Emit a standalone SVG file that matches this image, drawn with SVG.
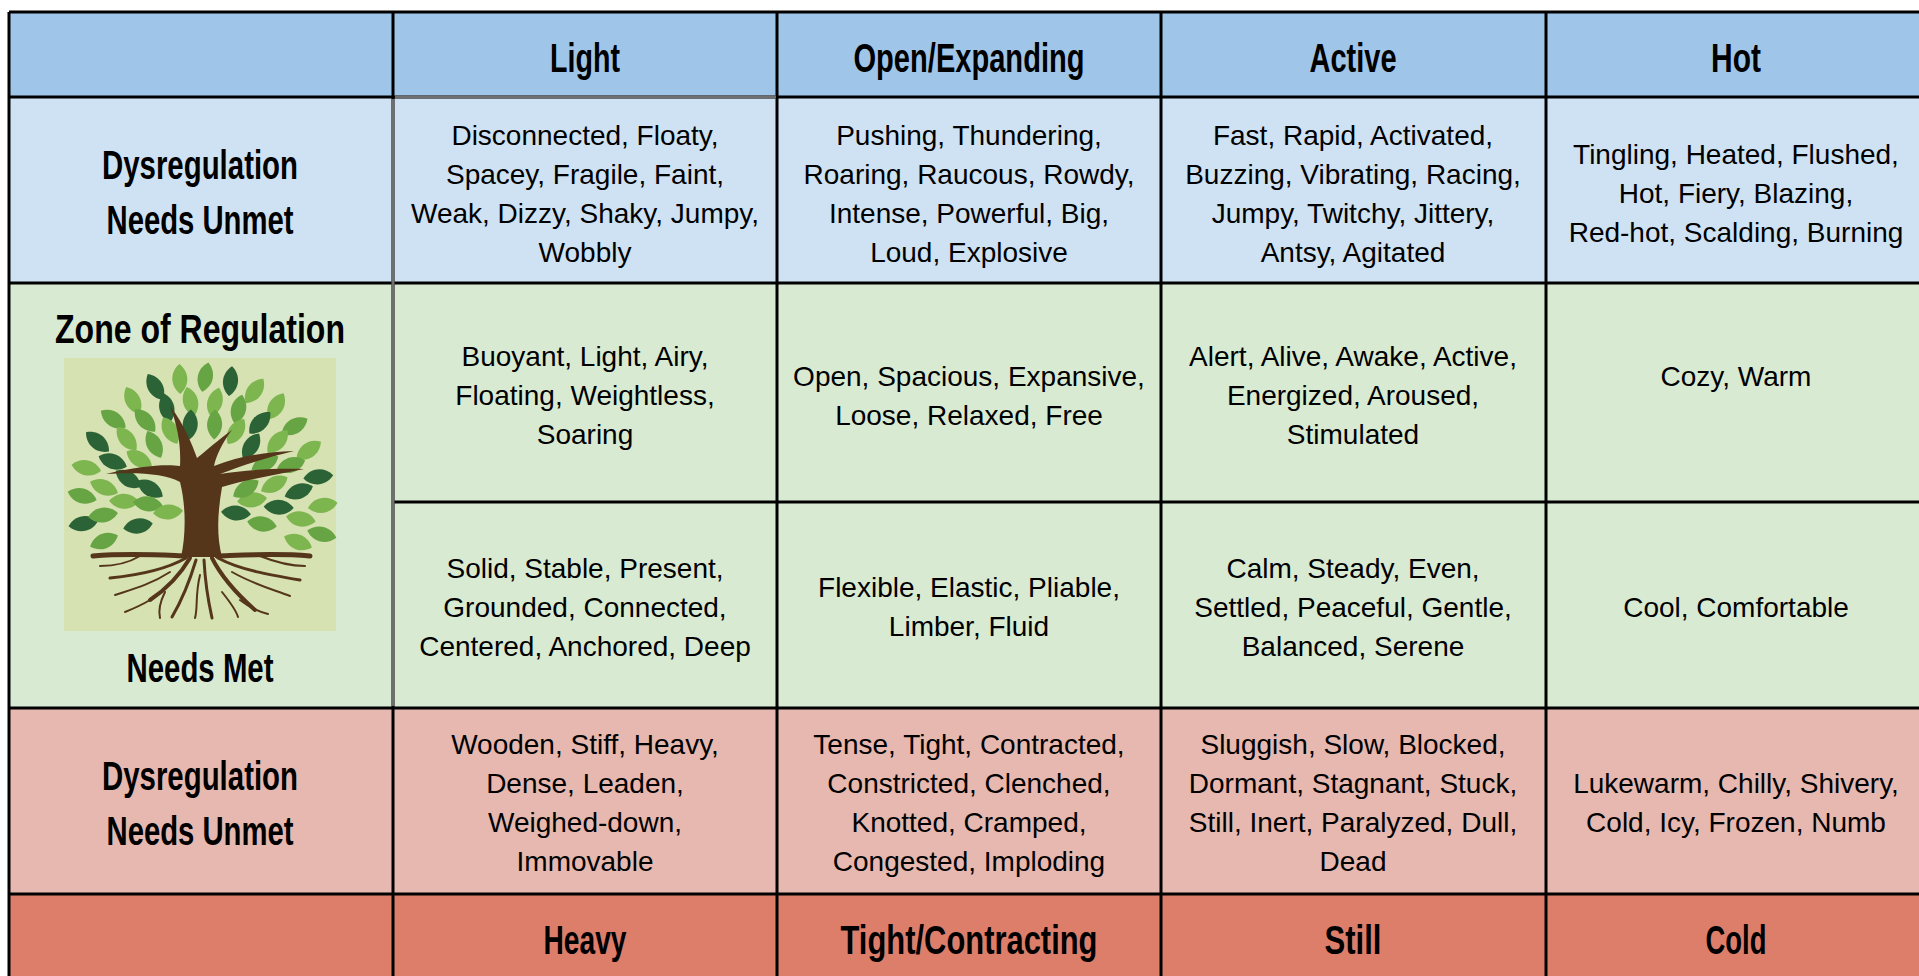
<svg xmlns="http://www.w3.org/2000/svg" width="1919" height="976" viewBox="0 0 1919 976">
<defs>
<style>
.h{font-family:'Liberation Sans',Arial,sans-serif;font-weight:700;font-size:41px;text-anchor:middle;fill:#000}
.b{font-family:'Liberation Sans',Arial,sans-serif;font-size:28px;text-anchor:middle;fill:#000}
.ln{stroke:#000;stroke-width:3;fill:none}
.lg{stroke:#6f6f6f;stroke-width:3;fill:none}
.g1{fill:#7db54f}.g2{fill:#67a443}.g3{fill:#2b6236}
.br{stroke:#55361b;fill:none;stroke-linecap:round;stroke-linejoin:round}
</style>
<path id="leaf" d="M0,-15 C10,-7 10,7 0,15 C-10,7 -10,-7 0,-15Z"/>
</defs>
<rect width="1919" height="976" fill="#fff"/>
<g id="backgrounds">
<rect x="9" y="12" width="1910" height="85" fill="#9fc5e8"/>
<rect x="9" y="97" width="1910" height="186" fill="#cfe2f3"/>
<rect x="9" y="283" width="1910" height="425" fill="#d9ead3"/>
<rect x="9" y="708" width="1910" height="186" fill="#e6b8af"/>
<rect x="9" y="894" width="1910" height="82" fill="#dd7e6b"/>
</g>
<g id="header-top">
<text class="h" x="585" y="72" textLength="70" lengthAdjust="spacingAndGlyphs">Light</text>
<text class="h" x="969" y="72" textLength="231" lengthAdjust="spacingAndGlyphs">Open/Expanding</text>
<text class="h" x="1353" y="72" textLength="87" lengthAdjust="spacingAndGlyphs">Active</text>
<text class="h" x="1736" y="72" textLength="50" lengthAdjust="spacingAndGlyphs">Hot</text>
</g>
<g id="label-unmet-top">
<text class="h" x="200" y="179" textLength="196" lengthAdjust="spacingAndGlyphs">Dysregulation</text>
<text class="h" x="200" y="234" textLength="187" lengthAdjust="spacingAndGlyphs">Needs Unmet</text>
</g>
<g id="cell-r1-light"><text class="b"><tspan x="585" y="145">Disconnected, Floaty,</tspan><tspan x="585" y="184">Spacey, Fragile, Faint,</tspan><tspan x="585" y="223">Weak, Dizzy, Shaky, Jumpy,</tspan><tspan x="585" y="262">Wobbly</tspan></text></g>
<g id="cell-r1-open"><text class="b"><tspan x="969" y="145">Pushing, Thundering,</tspan><tspan x="969" y="184">Roaring, Raucous, Rowdy,</tspan><tspan x="969" y="223">Intense, Powerful, Big,</tspan><tspan x="969" y="262">Loud, Explosive</tspan></text></g>
<g id="cell-r1-active"><text class="b"><tspan x="1353" y="145">Fast, Rapid, Activated,</tspan><tspan x="1353" y="184">Buzzing, Vibrating, Racing,</tspan><tspan x="1353" y="223">Jumpy, Twitchy, Jittery,</tspan><tspan x="1353" y="262">Antsy, Agitated</tspan></text></g>
<g id="cell-r1-hot"><text class="b"><tspan x="1736" y="164">Tingling, Heated, Flushed,</tspan><tspan x="1736" y="203">Hot, Fiery, Blazing,</tspan><tspan x="1736" y="242">Red-hot, Scalding, Burning</tspan></text></g>
<g id="label-zone">
<text class="h" x="200" y="343" textLength="290" lengthAdjust="spacingAndGlyphs">Zone of Regulation</text>
<g id="tree">
<rect x="64" y="358" width="272" height="273" fill="#d6e2b1"/>
<g id="leaves">
<use href="#leaf" class="g2" transform="translate(321.8,534.2) rotate(104)"/>
<use href="#leaf" class="g1" transform="translate(322.7,505.3) rotate(80)"/>
<use href="#leaf" class="g3" transform="translate(318.3,476.9) rotate(84)"/>
<use href="#leaf" class="g1" transform="translate(308.7,450.3) rotate(55)"/>
<use href="#leaf" class="g2" transform="translate(294.5,426.3) rotate(60)"/>
<use href="#leaf" class="g1" transform="translate(276.1,406.3) rotate(30)"/>
<use href="#leaf" class="g1" transform="translate(254.5,391.0) rotate(36)"/>
<use href="#leaf" class="g3" transform="translate(230.5,381.1) rotate(6)"/>
<use href="#leaf" class="g2" transform="translate(205.3,377.1) rotate(12)"/>
<use href="#leaf" class="g1" transform="translate(179.8,379.1) rotate(-2)"/>
<use href="#leaf" class="g3" transform="translate(155.3,387.1) rotate(-30)"/>
<use href="#leaf" class="g1" transform="translate(132.8,400.6) rotate(-26)"/>
<use href="#leaf" class="g2" transform="translate(113.3,419.1) rotate(-56)"/>
<use href="#leaf" class="g3" transform="translate(97.5,441.9) rotate(-50)"/>
<use href="#leaf" class="g1" transform="translate(86.3,467.8) rotate(-78)"/>
<use href="#leaf" class="g2" transform="translate(82.2,495.8) rotate(-74)"/>
<use href="#leaf" class="g3" transform="translate(83.3,523.7) rotate(-100)"/>
<use href="#leaf" class="g1" transform="translate(300.9,519.0) rotate(100)"/>
<use href="#leaf" class="g3" transform="translate(298.8,491.3) rotate(70)"/>
<use href="#leaf" class="g2" transform="translate(290.9,465.1) rotate(72)"/>
<use href="#leaf" class="g1" transform="translate(277.6,441.7) rotate(42)"/>
<use href="#leaf" class="g3" transform="translate(259.8,422.8) rotate(44)"/>
<use href="#leaf" class="g2" transform="translate(238.5,409.3) rotate(14)"/>
<use href="#leaf" class="g1" transform="translate(214.9,402.1) rotate(16)"/>
<use href="#leaf" class="g1" transform="translate(190.5,401.6) rotate(-14)"/>
<use href="#leaf" class="g3" transform="translate(166.8,407.8) rotate(-12)"/>
<use href="#leaf" class="g2" transform="translate(145.1,420.5) rotate(-42)"/>
<use href="#leaf" class="g1" transform="translate(126.7,438.7) rotate(-40)"/>
<use href="#leaf" class="g3" transform="translate(112.7,461.5) rotate(-70)"/>
<use href="#leaf" class="g1" transform="translate(104.0,487.4) rotate(-68)"/>
<use href="#leaf" class="g2" transform="translate(103.0,515.0) rotate(-98)"/>
<use href="#leaf" class="g3" transform="translate(278.7,507.2) rotate(93)"/>
<use href="#leaf" class="g1" transform="translate(274.3,484.2) rotate(62)"/>
<use href="#leaf" class="g2" transform="translate(264.9,463.3) rotate(63)"/>
<use href="#leaf" class="g3" transform="translate(251.1,446.1) rotate(32)"/>
<use href="#leaf" class="g1" transform="translate(236.0,431.5) rotate(33)"/>
<use href="#leaf" class="g2" transform="translate(214.6,424.4) rotate(2)"/>
<use href="#leaf" class="g3" transform="translate(190.2,424.4) rotate(3)"/>
<use href="#leaf" class="g1" transform="translate(170.3,430.4) rotate(-28)"/>
<use href="#leaf" class="g2" transform="translate(154.2,444.3) rotate(-27)"/>
<use href="#leaf" class="g1" transform="translate(139.3,459.1) rotate(-58)"/>
<use href="#leaf" class="g3" transform="translate(128.3,478.9) rotate(-57)"/>
<use href="#leaf" class="g1" transform="translate(124.2,501.3) rotate(-88)"/>
<use href="#leaf" class="g1" transform="translate(252.1,499.9) rotate(83)"/>
<use href="#leaf" class="g2" transform="translate(245.9,488.6) rotate(58)"/>
<use href="#leaf" class="g3" transform="translate(150.1,488.6) rotate(-58)"/>
<use href="#leaf" class="g2" transform="translate(147.9,503.9) rotate(-83)"/>
<use href="#leaf" class="g2" transform="translate(104,541) rotate(-112)"/>
<use href="#leaf" class="g3" transform="translate(138,526) rotate(-100)"/>
<use href="#leaf" class="g1" transform="translate(298,542) rotate(112)"/>
<use href="#leaf" class="g2" transform="translate(262,524) rotate(100)"/>
<use href="#leaf" class="g1" transform="translate(168,512) rotate(-95)"/>
<use href="#leaf" class="g3" transform="translate(236,513) rotate(95)"/>
</g>
<g id="trunk">
<path fill="#55361b" d="M181,557 C186,535 186,505 180,482 C165,474 140,472 106,474 C140,466 165,464 180,466 C181,445 178,428 170,406 C184,424 192,444 197,458 C207,450 218,440 232,430 C222,443 216,456 214,466 C240,456 265,452 294,451 C265,458 240,466 220,474 C245,470 275,468 304,469 C275,475 245,480 222,487 C218,510 216,535 222,557 Z"/>
<path class="br" stroke-width="5" d="M186,556 C160,555 130,553 93,556"/>
<path class="br" stroke-width="5" d="M217,556 C245,555 275,553 310,556"/>
<path class="br" stroke-width="4" d="M190,558 C180,575 165,590 150,600"/>
<path class="br" stroke-width="3" d="M196,560 C190,580 182,600 172,617"/>
<path class="br" stroke-width="3" d="M204,560 C205,580 208,600 212,618"/>
<path class="br" stroke-width="4" d="M212,558 C222,578 238,595 255,610"/>
<path class="br" stroke-width="3" d="M186,558 C165,570 140,575 110,578"/>
<path class="br" stroke-width="3" d="M218,558 C240,570 270,575 300,580"/>
<path class="br" stroke-width="2" d="M170,572 C150,585 130,590 115,595"/>
<path class="br" stroke-width="2" d="M232,572 C255,585 275,590 290,596"/>
<path class="br" stroke-width="2" d="M150,600 C140,606 130,610 125,612"/>
<path class="br" stroke-width="2" d="M240,600 C250,608 260,612 268,614"/>
<path class="br" stroke-width="2" d="M200,575 C195,595 198,608 195,618"/>
<path class="br" stroke-width="2" d="M140,556 C130,562 115,566 100,566"/>
<path class="br" stroke-width="2" d="M260,556 C275,562 290,566 305,566"/>
<path class="br" stroke-width="2" d="M165,592 C160,602 158,610 160,618"/>
<path class="br" stroke-width="2" d="M222,592 C230,602 236,610 238,617"/>
</g>
</g>
<text class="h" x="200" y="682" textLength="147" lengthAdjust="spacingAndGlyphs">Needs Met</text>
</g>
<g id="cell-r2a-light"><text class="b"><tspan x="585" y="366">Buoyant, Light, Airy,</tspan><tspan x="585" y="405">Floating, Weightless,</tspan><tspan x="585" y="444">Soaring</tspan></text></g>
<g id="cell-r2a-open"><text class="b"><tspan x="969" y="386">Open, Spacious, Expansive,</tspan><tspan x="969" y="425">Loose, Relaxed, Free</tspan></text></g>
<g id="cell-r2a-active"><text class="b"><tspan x="1353" y="366">Alert, Alive, Awake, Active,</tspan><tspan x="1353" y="405">Energized, Aroused,</tspan><tspan x="1353" y="444">Stimulated</tspan></text></g>
<g id="cell-r2a-hot"><text class="b" x="1736" y="386">Cozy, Warm</text></g>
<g id="cell-r2b-light"><text class="b"><tspan x="585" y="578">Solid, Stable, Present,</tspan><tspan x="585" y="617">Grounded, Connected,</tspan><tspan x="585" y="656">Centered, Anchored, Deep</tspan></text></g>
<g id="cell-r2b-open"><text class="b"><tspan x="969" y="597">Flexible, Elastic, Pliable,</tspan><tspan x="969" y="636">Limber, Fluid</tspan></text></g>
<g id="cell-r2b-active"><text class="b"><tspan x="1353" y="578">Calm, Steady, Even,</tspan><tspan x="1353" y="617">Settled, Peaceful, Gentle,</tspan><tspan x="1353" y="656">Balanced, Serene</tspan></text></g>
<g id="cell-r2b-hot"><text class="b" x="1736" y="617">Cool, Comfortable</text></g>
<g id="label-unmet-bottom">
<text class="h" x="200" y="790" textLength="196" lengthAdjust="spacingAndGlyphs">Dysregulation</text>
<text class="h" x="200" y="845" textLength="187" lengthAdjust="spacingAndGlyphs">Needs Unmet</text>
</g>
<g id="cell-r3-light"><text class="b"><tspan x="585" y="754">Wooden, Stiff, Heavy,</tspan><tspan x="585" y="793">Dense, Leaden,</tspan><tspan x="585" y="832">Weighed-down,</tspan><tspan x="585" y="871">Immovable</tspan></text></g>
<g id="cell-r3-open"><text class="b"><tspan x="969" y="754">Tense, Tight, Contracted,</tspan><tspan x="969" y="793">Constricted, Clenched,</tspan><tspan x="969" y="832">Knotted, Cramped,</tspan><tspan x="969" y="871">Congested, Imploding</tspan></text></g>
<g id="cell-r3-active"><text class="b"><tspan x="1353" y="754">Sluggish, Slow, Blocked,</tspan><tspan x="1353" y="793">Dormant, Stagnant, Stuck,</tspan><tspan x="1353" y="832">Still, Inert, Paralyzed, Dull,</tspan><tspan x="1353" y="871">Dead</tspan></text></g>
<g id="cell-r3-hot"><text class="b"><tspan x="1736" y="793">Lukewarm, Chilly, Shivery,</tspan><tspan x="1736" y="832">Cold, Icy, Frozen, Numb</tspan></text></g>
<g id="header-bottom">
<text class="h" x="585" y="954" textLength="83" lengthAdjust="spacingAndGlyphs">Heavy</text>
<text class="h" x="969" y="954" textLength="257" lengthAdjust="spacingAndGlyphs">Tight/Contracting</text>
<text class="h" x="1353" y="954" textLength="57" lengthAdjust="spacingAndGlyphs">Still</text>
<text class="h" x="1736" y="954" textLength="61" lengthAdjust="spacingAndGlyphs">Cold</text>
</g>
<g id="grid">
<path class="ln" d="M9,12 H1919 M9,97 H1919 M9,283 H1919 M393,502 H1919 M9,708 H1919 M9,894 H1919"/>
<path class="ln" d="M9,12 V976 M393,12 V976 M777,12 V976 M1161,12 V976 M1546,12 V976"/>
<path class="lg" d="M393,99 V706 M395,97 H776"/>
</g>
</svg>
